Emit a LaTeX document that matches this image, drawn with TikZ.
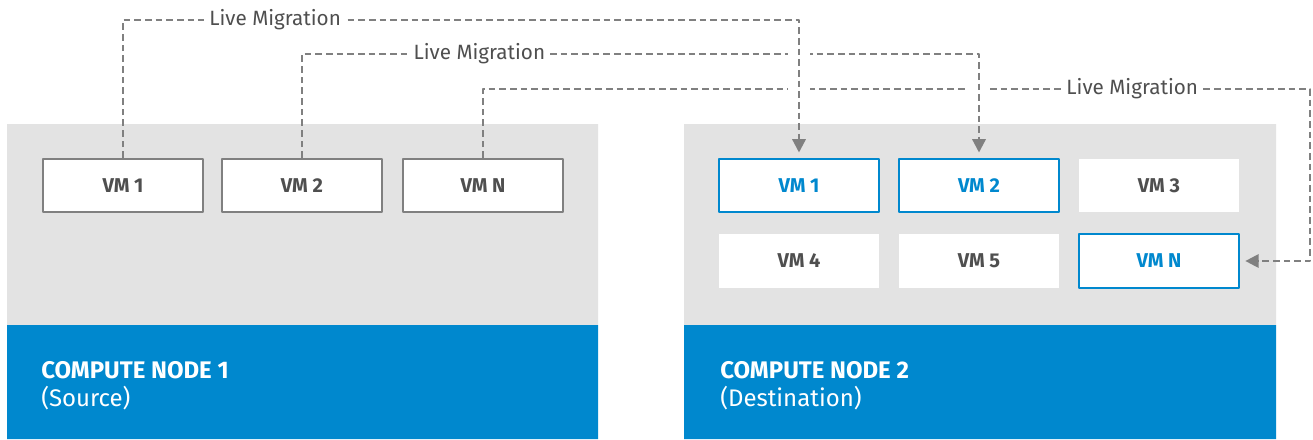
\documentclass[tikz,border=0pt]{standalone}
\usepackage{fontspec}
\setmainfont{Fira Sans}
\usetikzlibrary{arrows.meta}
\definecolor{rhblue}{HTML}{0088CE}
\definecolor{panelgray}{HTML}{E3E3E3}
\definecolor{linegray}{HTML}{808080}
\definecolor{textgray}{HTML}{4F4F4F}
\begin{document}
\begin{tikzpicture}[x=0.75pt, y=-0.75pt, line join=round,
	vm/.style={draw=linegray, fill=white, line width=1.5pt, minimum width=120pt, minimum height=40pt, inner sep=0pt, text=textgray, font=\fontsize{15}{16}\selectfont\bfseries},
	vmnew/.style={vm, draw=rhblue, text=rhblue},
	vmold/.style={vm, draw=none},
	mig/.style={linegray, line width=1.7pt, dash pattern=on 5pt off 3pt, -{Triangle[length=10pt,width=10pt]}, shorten >=4pt},
	lbl/.style={fill=white, text=textgray, inner sep=4pt, font=\fontsize{15.5}{17}\selectfont},
	host/.style={anchor=north west, inner sep=0pt, text=white, align=left, font=\fontsize{18}{21}\selectfont}]
	\useasboundingbox (0,0) rectangle (1313,439);
	% compute nodes
	\fill[panelgray] (7,124) rectangle (598,325) (684,124) rectangle (1276,325);
	\fill[rhblue] (7,325) rectangle (598,439) (684,325) rectangle (1276,439);
	\node[host] (c1) at (41,361) {\textbf{COMPUTE NODE 1}\\(Source)};
	\node[host] (c2) at (720,361) {\textbf{COMPUTE NODE 2}\\(Destination)};
	% virtual machines
	\foreach \n/\x/\t in {s1/123/VM 1, s2/302/VM 2, sn/483/VM N} \node[vm] (\n) at (\x,185.5) {\t};
	\node[vmnew] (d1) at (799,185.5) {VM 1};
	\node[vmnew] (d2) at (979,185.5) {VM 2};
	\node[vmold] (d3) at (1159,185.5) {VM 3};
	\node[vmold] (d4) at (799,261) {VM 4};
	\node[vmold] (d5) at (979,261) {VM 5};
	\node[vmnew] (dn) at (1159,261) {VM N};
	% live migrations
	\draw[mig] (sn.north) -- ++(0,-69) -- node[lbl,pos=0.785]{Live Migration} ++(827,0) |- (dn.east);
	\draw[white, line width=16pt] (979,76) -- (979,104);
	\draw[mig] (s2.north) -- ++(0,-104) -| node[lbl,pos=0.131]{Live Migration} (d2.north);
	\draw[white, line width=16pt] (799,42) -- (799,104);
	\draw[mig] (s1.north) -- ++(0,-138) -| node[lbl,pos=0.1125]{Live Migration} (d1.north);
\end{tikzpicture}
\end{document}
